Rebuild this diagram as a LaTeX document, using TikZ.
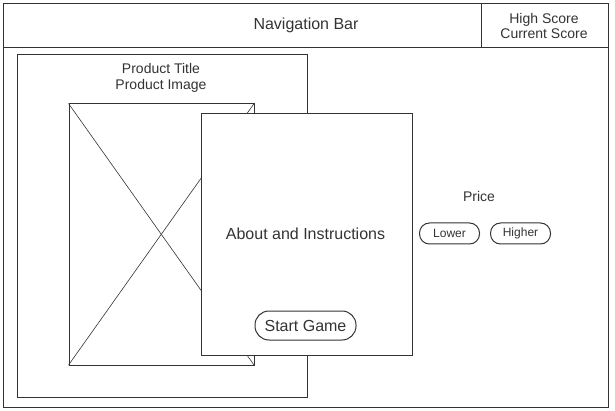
\documentclass[tikz,border=0pt]{standalone}
\usepackage{fontspec}
\setmainfont{Liberation Sans}
\definecolor{ln}{HTML}{333333}
\definecolor{tx}{HTML}{333333}
\begin{document}
\begin{tikzpicture}[x=1pt,y=-1pt,
  box/.style={draw=ln,line width=1pt},
  thin/.style={draw=ln,line width=0.6pt},
  lbl/.style={text=tx,inner sep=0pt,align=center},
  btn/.style={draw=ln,line width=1pt,rounded corners=10pt,fill=white,text=tx,inner sep=0pt,minimum width=#1},
]
\useasboundingbox (0,0) rectangle (615,411);
% outer frame and navigation bar
\draw[box] (3.5,3.5) rectangle (608.5,407.5);
\coordinate (navL) at (3.5,47.5);
\coordinate (navR) at (608.5,47.5);
\draw[box] (navL) -- (navR);
\coordinate (divT) at (481.5,3.5);
\coordinate (divB) at (481.5,47.5);
\draw[box] (divT) -- (divB);
\node[lbl,font=\fontsize{16}{19}\selectfont] (nav) at (306,25.5) {Navigation Bar};
\node[lbl,font=\fontsize{14}{16}\selectfont] (score) at (544,26) {High Score\\Current Score};
% product container
\node[box,minimum width=290pt,minimum height=342pt,inner sep=0pt,anchor=north west] (prod) at (16.5,54.5) {};
\node[lbl,font=\fontsize{14}{16}\selectfont] (ptitle) at (161,77.5) {Product Title\\Product Image};
% image placeholder
\node[thin,minimum width=185pt,minimum height=261pt,inner sep=0pt,anchor=north west] (img) at (68.5,103.5) {};
\draw[thin] (img.north west) -- (img.south east);
\draw[thin] (img.north east) -- (img.south west);
% about box
\node[box,fill=white,minimum width=211pt,minimum height=241pt,inner sep=0pt,anchor=north west] (about) at (200.5,113.5) {};
\node[lbl,font=\fontsize{16}{19}\selectfont] (abouttxt) at (305.5,233.5) {About and Instructions};
\node[btn=101pt,minimum height=29pt,rounded corners=14pt,font=\fontsize{16}{19}\selectfont] (start) at (305.5,325.5) {Start Game};
% price and buttons
\node[lbl,font=\fontsize{14}{16}\selectfont] (price) at (479,196) {Price};
\node[btn=60pt,minimum height=21pt,font=\fontsize{12}{14}\selectfont] (lower) at (449.5,233.5) {Lower};
\node[btn=60pt,minimum height=21pt,font=\fontsize{12}{14}\selectfont] (higher) at (520.5,233.5) {Higher};
\end{tikzpicture}
\end{document}
